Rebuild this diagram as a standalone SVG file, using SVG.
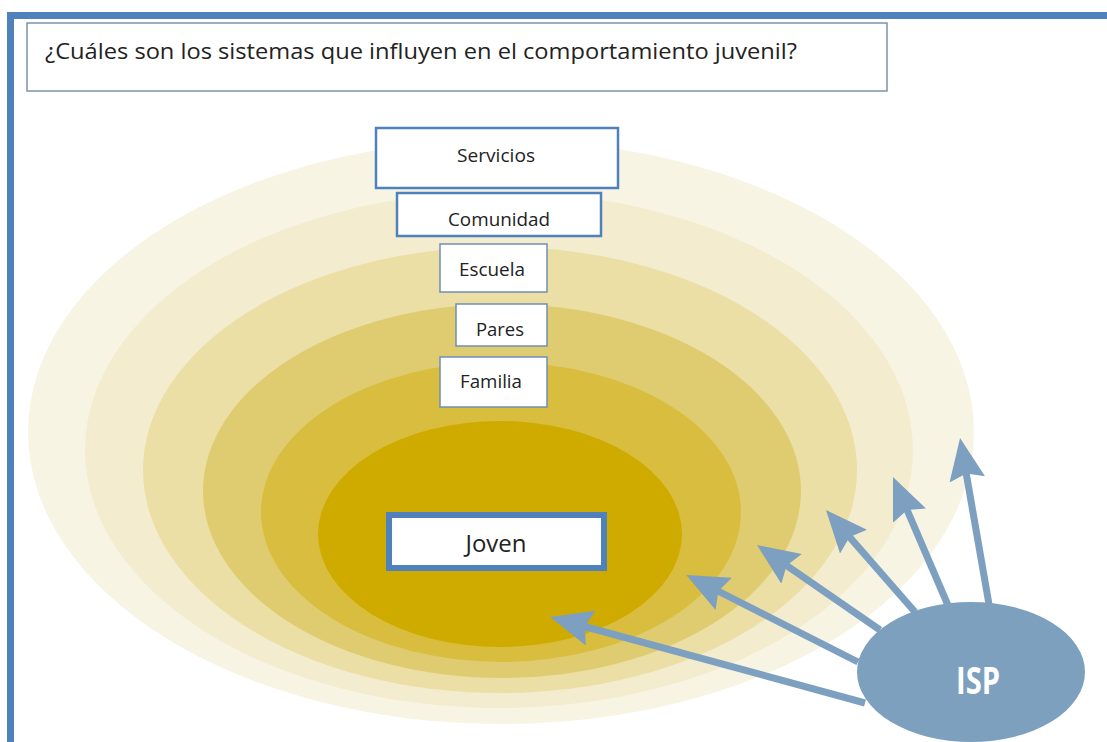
<svg xmlns="http://www.w3.org/2000/svg" width="1107" height="742" viewBox="0 0 1107 742">
<style>
.lbl{font-family:"Open Sans","Liberation Sans",sans-serif;fill:#222;text-anchor:middle;font-size:17.5px}
.box{fill:#fff;stroke:#4f81bd;stroke-width:2.5}
.thin{fill:#fff;stroke:#6f8fb5;stroke-width:1.5}
.arr{stroke:#7da0c0;stroke-width:7;fill:none;marker-end:url(#ah)}
</style>
<defs>
<marker id="ah" markerUnits="userSpaceOnUse" markerWidth="44" markerHeight="36" refX="12" refY="18" orient="auto">
<path d="M0,0 L42,18 L0,36 L6,18 Z" fill="#7da0c0"/>
</marker>
</defs>
<rect width="1107" height="742" fill="#fff"/>
<g id="frame">
<rect x="7" y="12" width="1100" height="7" fill="#4f81bd"/>
<rect x="7" y="12" width="7" height="730" fill="#4f81bd"/>
</g>
<g id="title">
<rect x="27" y="23" width="860" height="68" fill="#fff" stroke="#7f93a8" stroke-width="1.5"/>
<text x="45" y="59" font-family="Open Sans, Liberation Sans, sans-serif" font-size="21" fill="#222" textLength="752" lengthAdjust="spacingAndGlyphs">¿Cuáles son los sistemas que influyen en el comportamiento juvenil?</text>
</g>
<g id="rings">
<ellipse cx="501" cy="432" rx="473" ry="292" fill="#f8f4e3"/>
<ellipse cx="499" cy="450" rx="414" ry="258" fill="#f3eccf"/>
<ellipse cx="500" cy="470" rx="357" ry="223" fill="#ebdfa6"/>
<ellipse cx="502" cy="491" rx="299" ry="187" fill="#e0cc70"/>
<ellipse cx="501" cy="512" rx="240" ry="150" fill="#d8bd3e"/>
<ellipse cx="500" cy="534" rx="182" ry="113" fill="#cfab00"/>
</g>
<g id="connectors">
<line class="arr" x1="865" y1="703" x2="579" y2="625"/>
<line class="arr" x1="858" y1="662" x2="713" y2="588.5"/>
<line class="arr" x1="880" y1="630" x2="781.7" y2="562.1"/>
<line class="arr" x1="915" y1="612" x2="845.7" y2="532.6"/>
<line class="arr" x1="950" y1="610" x2="904.8" y2="504.6"/>
<line class="arr" x1="990" y1="610" x2="965.2" y2="467.6"/>
</g>
<g id="isp">
<ellipse cx="971" cy="672" rx="114" ry="70" fill="#7da0bf"/>
<text x="978" y="694" font-family="Open Sans, Liberation Sans, sans-serif" font-weight="bold" font-size="38" fill="#fff" text-anchor="middle" textLength="44" lengthAdjust="spacingAndGlyphs">ISP</text>
</g>
<g id="servicios">
<rect class="box" x="376" y="128" width="242" height="60"/>
<text class="lbl" x="496" y="162" textLength="78" lengthAdjust="spacingAndGlyphs">Servicios</text>
</g>
<g id="comunidad">
<rect class="box" x="397" y="193" width="204" height="43"/>
<text class="lbl" x="499" y="226" textLength="102" lengthAdjust="spacingAndGlyphs">Comunidad</text>
</g>
<g id="escuela">
<rect class="thin" x="440" y="244" width="107" height="48"/>
<text class="lbl" x="492" y="276" textLength="66" lengthAdjust="spacingAndGlyphs">Escuela</text>
</g>
<g id="pares">
<rect class="thin" x="456" y="304" width="91" height="42"/>
<text class="lbl" x="500" y="336" textLength="48" lengthAdjust="spacingAndGlyphs">Pares</text>
</g>
<g id="familia">
<rect class="thin" x="440" y="357" width="107" height="50"/>
<text class="lbl" x="491" y="388" textLength="62" lengthAdjust="spacingAndGlyphs">Familia</text>
</g>
<g id="joven">
<rect x="389" y="515" width="215" height="53" fill="#fff" stroke="#4f81bd" stroke-width="6"/>
<text class="lbl" x="496" y="552" style="font-size:23px" textLength="61" lengthAdjust="spacingAndGlyphs">Joven</text>
</g>
</svg>
